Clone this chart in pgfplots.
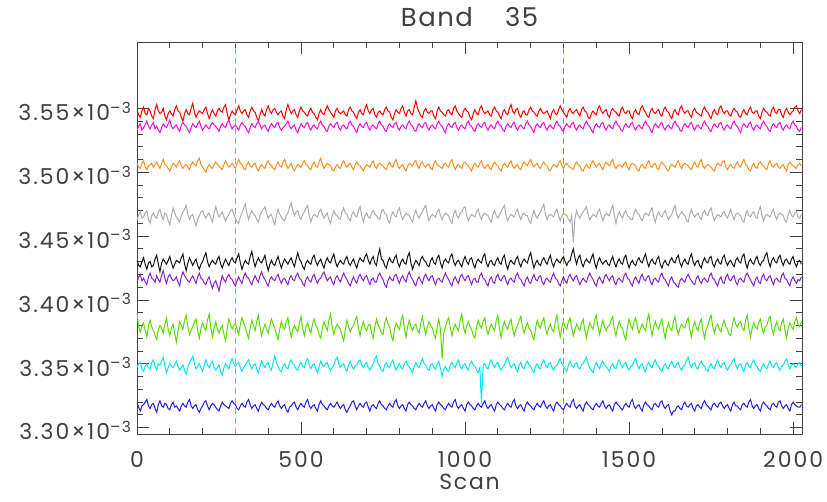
\documentclass[border=0pt]{standalone}
\usepackage{fontspec}
\setmainfont{Poppins}
\usepackage{pgfplots}
\usepackage{pgfplotstable}
\pgfplotsset{compat=1.18}
\definecolor{txt}{RGB}{64,64,64}
\definecolor{cR}{RGB}{255,0,0}
\definecolor{cM}{RGB}{245,10,225}
\definecolor{cO}{RGB}{255,140,30}
\definecolor{cGy}{RGB}{172,172,172}
\definecolor{cK}{RGB}{20,20,20}
\definecolor{cP}{RGB}{140,30,210}
\definecolor{cGr}{RGB}{90,220,0}
\definecolor{cC}{RGB}{0,230,240}
\definecolor{cB}{RGB}{30,30,230}
\definecolor{dPink}{RGB}{240,130,160}
\definecolor{dBlue}{RGB}{130,130,240}
\pgfplotstableread{
x r m o gy k p gr c b
0 3549 3533 3507 3462 3431 3414 3390 3347 3320
5 3545 3536 3504 3467 3427 3418 3379 3350 3316
10 3543 3538 3503 3469 3426 3420 3375 3351 3313
15 3548 3533 3507 3464 3430 3415 3380 3346 3317
20 3551 3535 3509 3465 3433 3417 3382 3344 3318
25 3546 3537 3504 3468 3428 3414 3376 3348 3320
30 3545 3540 3502 3470 3424 3412 3371 3350 3322
35 3550 3536 3505 3463 3429 3418 3380 3347 3317
40 3548 3534 3506 3460 3430 3421 3384 3346 3315
45 3544 3537 3507 3466 3426 3417 3379 3351 3318
50 3542 3539 3504 3468 3427 3416 3376 3353 3319
55 3549 3534 3506 3465 3432 3414 3372 3348 3315
60 3553 3536 3508 3464 3435 3419 3369 3345 3312
65 3548 3533 3505 3469 3428 3416 3377 3350 3318
70 3546 3531 3503 3471 3422 3414 3380 3349 3321
75 3547 3535 3507 3466 3429 3419 3378 3352 3317
80 3550 3538 3510 3463 3432 3423 3374 3355 3316
85 3544 3536 3506 3468 3430 3417 3381 3348 3319
90 3541 3535 3505 3467 3428 3413 3386 3343 3318
95 3546 3538 3503 3462 3431 3418 3377 3347 3315
100 3548 3541 3501 3459 3434 3420 3372 3350 3314
105 3546 3536 3504 3466 3429 3417 3378 3348 3318
110 3544 3534 3507 3472 3425 3415 3381 3347 3320
115 3549 3536 3506 3468 3428 3416 3374 3350 3316
120 3552 3537 3504 3465 3431 3418 3367 3352 3317
125 3548 3534 3507 3463 3430 3414 3376 3348 3315
130 3547 3532 3509 3461 3429 3411 3383 3345 3313
135 3543 3537 3505 3466 3433 3418 3380 3347 3317
140 3540 3539 3503 3469 3436 3422 3377 3349 3319
145 3546 3537 3505 3471 3428 3419 3384 3345 3317
150 3549 3536 3506 3474 3423 3417 3388 3342 3316
155 3546 3533 3504 3467 3429 3415 3379 3347 3320
160 3545 3531 3502 3463 3433 3414 3373 3351 3322
165 3550 3535 3506 3466 3430 3417 3376 3353 3317
170 3554 3538 3508 3467 3427 3419 3379 3356 3315
175 3547 3536 3506 3462 3430 3416 3383 3350 3317
180 3543 3535 3505 3458 3432 3413 3385 3346 3318
185 3546 3538 3509 3463 3427 3418 3376 3348 3314
190 3548 3540 3511 3466 3424 3421 3370 3350 3312
195 3547 3536 3506 3469 3428 3417 3378 3347 3315
200 3546 3533 3504 3470 3430 3416 3382 3344 3317
205 3549 3535 3502 3466 3434 3413 3378 3349 3320
210 3551 3537 3500 3464 3437 3412 3376 3353 3321
215 3546 3535 3504 3467 3430 3416 3384 3349 3317
220 3542 3534 3506 3468 3426 3418 3389 3347 3314
225 3546 3537 3504 3464 3429 3413 3378 3350 3317
230 3549 3539 3503 3461 3431 3409 3371 3352 3319
235 3546 3537 3506 3468 3429 3413 3378 3347 3318
240 3544 3536 3508 3473 3428 3415 3383 3345 3316
245 3548 3534 3506 3468 3432 3411 3377 3347 3314
250 3550 3532 3505 3465 3434 3407 3374 3349 3313
255 3548 3536 3503 3467 3428 3414 3378 3344 3317
260 3547 3538 3502 3469 3425 3419 3380 3341 3320
265 3551 3536 3506 3465 3429 3416 3373 3347 3318
270 3553 3535 3509 3462 3432 3414 3368 3350 3317
275 3546 3539 3506 3465 3429 3418 3378 3348 3316
280 3541 3541 3504 3467 3427 3420 3385 3346 3315
285 3545 3537 3505 3470 3431 3417 3381 3351 3319
290 3548 3534 3507 3471 3433 3416 3377 3354 3321
295 3546 3536 3505 3467 3430 3413 3380 3350 3319
300 3545 3537 3503 3464 3429 3411 3382 3348 3318
305 3549 3535 3507 3461 3433 3415 3377 3350 3315
310 3552 3533 3510 3460 3436 3418 3373 3351 3314
315 3548 3537 3507 3465 3429 3415 3381 3347 3317
320 3546 3539 3506 3468 3424 3413 3386 3344 3319
325 3548 3537 3503 3472 3428 3418 3382 3347 3317
330 3549 3536 3502 3475 3431 3421 3379 3349 3316
335 3545 3533 3506 3468 3429 3418 3374 3351 3320
340 3543 3531 3508 3463 3428 3417 3370 3353 3322
345 3548 3535 3505 3467 3434 3414 3378 3349 3318
350 3551 3538 3504 3470 3438 3412 3384 3346 3315
355 3548 3536 3506 3467 3431 3416 3380 3349 3317
360 3547 3535 3507 3466 3426 3419 3376 3350 3318
365 3543 3538 3503 3463 3430 3416 3383 3346 3315
370 3540 3540 3501 3461 3433 3414 3388 3343 3313
375 3545 3537 3504 3466 3430 3419 3379 3348 3317
380 3549 3534 3506 3469 3429 3422 3372 3352 3320
385 3546 3536 3504 3471 3432 3418 3377 3349 3318
390 3544 3537 3503 3473 3435 3416 3381 3347 3317
395 3549 3534 3507 3468 3428 3413 3377 3350 3315
400 3552 3532 3509 3464 3423 3411 3374 3351 3314
405 3548 3536 3506 3466 3428 3416 3380 3347 3317
410 3546 3538 3505 3467 3431 3418 3385 3345 3319
415 3549 3536 3503 3462 3428 3416 3381 3351 3317
420 3550 3535 3502 3459 3427 3415 3378 3356 3316
425 3547 3538 3506 3466 3431 3418 3373 3351 3319
430 3545 3539 3508 3471 3434 3420 3369 3348 3321
435 3547 3535 3505 3467 3429 3416 3377 3345 3317
440 3548 3533 3504 3465 3425 3413 3383 3344 3315
445 3544 3535 3508 3463 3429 3416 3379 3348 3317
450 3542 3536 3510 3462 3432 3417 3377 3350 3318
455 3549 3538 3506 3466 3430 3414 3383 3347 3314
460 3553 3540 3503 3468 3428 3412 3386 3346 3312
465 3549 3536 3505 3473 3431 3417 3377 3351 3316
470 3546 3534 3507 3476 3433 3419 3371 3353 3317
475 3548 3536 3503 3470 3429 3416 3377 3350 3319
480 3549 3537 3501 3466 3426 3415 3380 3349 3320
485 3545 3533 3504 3469 3432 3419 3377 3346 3316
490 3543 3531 3506 3470 3437 3421 3375 3345 3314
495 3548 3535 3505 3465 3432 3417 3382 3349 3317
500 3551 3538 3504 3463 3430 3416 3387 3351 3319
505 3548 3536 3507 3467 3426 3413 3378 3348 3317
510 3547 3535 3509 3469 3424 3411 3372 3347 3316
515 3545 3538 3506 3472 3429 3416 3379 3352 3320
520 3544 3539 3505 3474 3431 3418 3382 3354 3322
525 3548 3535 3503 3466 3429 3415 3377 3349 3317
530 3550 3533 3502 3461 3428 3414 3374 3346 3315
535 3547 3536 3506 3465 3433 3418 3381 3349 3317
540 3546 3537 3508 3467 3435 3420 3385 3350 3318
545 3543 3535 3505 3466 3430 3416 3380 3346 3315
550 3541 3534 3504 3465 3427 3413 3378 3343 3313
555 3546 3538 3508 3469 3430 3416 3373 3348 3318
560 3549 3540 3511 3471 3432 3417 3370 3352 3321
565 3546 3537 3506 3467 3428 3420 3378 3349 3318
570 3545 3536 3503 3464 3425 3422 3383 3348 3317
575 3549 3533 3505 3466 3430 3418 3379 3350 3315
580 3552 3532 3507 3468 3433 3415 3376 3351 3314
585 3549 3536 3506 3463 3430 3417 3384 3347 3317
590 3547 3538 3505 3460 3429 3418 3389 3345 3319
595 3545 3536 3502 3466 3433 3414 3379 3347 3317
600 3543 3535 3501 3470 3436 3412 3373 3349 3316
605 3548 3538 3504 3467 3430 3417 3378 3353 3318
610 3550 3539 3506 3466 3426 3419 3381 3355 3320
615 3547 3535 3504 3464 3429 3416 3379 3350 3317
620 3546 3533 3503 3463 3431 3414 3377 3347 3315
625 3547 3536 3507 3469 3429 3418 3372 3349 3317
630 3548 3537 3509 3472 3428 3421 3368 3350 3318
635 3545 3535 3506 3468 3432 3418 3377 3346 3314
640 3544 3534 3504 3467 3434 3416 3384 3344 3312
645 3549 3538 3506 3464 3429 3413 3379 3349 3315
650 3551 3540 3507 3462 3427 3411 3375 3352 3317
655 3548 3537 3504 3467 3430 3415 3378 3348 3320
660 3547 3536 3502 3469 3432 3418 3380 3346 3321
665 3544 3533 3506 3466 3428 3415 3384 3348 3317
670 3542 3531 3508 3465 3425 3413 3387 3349 3314
675 3547 3536 3506 3470 3430 3418 3378 3352 3317
680 3549 3538 3505 3473 3433 3420 3372 3353 3319
685 3546 3536 3503 3466 3431 3417 3379 3349 3317
690 3545 3535 3501 3461 3430 3415 3383 3347 3316
695 3550 3538 3504 3466 3434 3418 3378 3350 3319
700 3553 3539 3506 3468 3436 3419 3376 3351 3320
705 3548 3535 3505 3465 3431 3415 3380 3347 3316
710 3546 3533 3504 3464 3428 3412 3381 3345 3313
715 3549 3536 3507 3468 3432 3416 3374 3348 3317
720 3550 3537 3509 3470 3434 3417 3370 3350 3318
725 3545 3535 3505 3467 3429 3414 3379 3354 3316
730 3543 3534 3503 3466 3427 3414 3385 3356 3315
735 3547 3538 3506 3464 3435 3419 3380 3350 3319
740 3548 3540 3507 3463 3440 3421 3378 3348 3321
745 3546 3537 3506 3469 3432 3418 3374 3345 3318
750 3545 3536 3505 3471 3431 3416 3373 3344 3317
755 3549 3533 3503 3468 3427 3412 3382 3349 3315
760 3551 3532 3502 3467 3425 3410 3386 3351 3314
765 3548 3536 3506 3462 3430 3415 3381 3348 3317
770 3547 3538 3508 3460 3433 3418 3379 3347 3319
775 3543 3536 3505 3466 3430 3416 3372 3351 3317
780 3541 3535 3504 3469 3429 3415 3368 3353 3316
785 3546 3538 3508 3466 3433 3419 3377 3348 3320
790 3549 3539 3510 3465 3435 3420 3382 3345 3322
795 3547 3535 3505 3470 3429 3416 3379 3348 3317
800 3546 3533 3503 3472 3426 3413 3377 3350 3315
805 3550 3536 3505 3466 3430 3417 3384 3347 3317
810 3552 3537 3506 3463 3432 3419 3388 3346 3318
815 3547 3535 3503 3466 3429 3416 3378 3350 3315
820 3544 3534 3501 3468 3428 3414 3371 3352 3313
825 3548 3538 3505 3467 3434 3419 3379 3349 3318
830 3549 3540 3507 3466 3437 3422 3384 3348 3320
835 3546 3537 3506 3463 3429 3418 3379 3345 3318
840 3545 3536 3505 3461 3424 3416 3376 3343 3317
845 3551 3533 3508 3467 3428 3413 3380 3348 3315
850 3556 3532 3509 3470 3431 3411 3381 3351 3314
855 3550 3536 3505 3466 3429 3416 3376 3348 3317
860 3547 3538 3503 3464 3427 3418 3374 3347 3319
865 3544 3536 3507 3467 3432 3415 3382 3351 3317
870 3543 3535 3508 3469 3434 3413 3387 3354 3316
875 3548 3538 3505 3472 3431 3418 3379 3350 3319
880 3550 3539 3504 3474 3430 3420 3373 3349 3321
885 3547 3535 3506 3467 3427 3417 3379 3346 3317
890 3546 3533 3506 3462 3426 3415 3383 3345 3315
895 3548 3536 3503 3465 3431 3418 3380 3349 3317
900 3548 3537 3502 3467 3433 3419 3378 3350 3318
905 3544 3535 3507 3466 3429 3415 3373 3347 3315
910 3542 3534 3509 3465 3428 3412 3370 3346 3313
915 3548 3538 3506 3469 3433 3416 3379 3350 3318
920 3551 3540 3505 3471 3435 3417 3385 3352 3320
925 3548 3537 3504 3466 3429 3415 3377 3346 3318
930 3547 3536 3503 3463 3425 3414 3354 3340 3317
935 3545 3533 3506 3466 3430 3418 3374 3346 3315
940 3544 3531 3507 3468 3432 3421 3379 3348 3314
945 3548 3536 3505 3467 3430 3418 3383 3345 3317
950 3549 3538 3504 3466 3429 3416 3386 3344 3319
955 3546 3536 3508 3462 3434 3413 3378 3349 3317
960 3545 3535 3510 3460 3436 3411 3372 3351 3316
965 3550 3538 3505 3467 3430 3416 3378 3348 3320
970 3552 3539 3502 3470 3427 3418 3381 3347 3322
975 3548 3535 3505 3466 3430 3415 3378 3351 3317
980 3546 3533 3506 3464 3431 3413 3376 3353 3315
985 3544 3536 3504 3468 3428 3418 3384 3348 3317
990 3543 3537 3503 3469 3426 3420 3389 3346 3318
995 3548 3535 3507 3472 3431 3417 3379 3349 3315
1000 3550 3534 3508 3473 3434 3415 3374 3350 3313
1005 3548 3538 3506 3466 3430 3418 3380 3347 3318
1010 3547 3540 3505 3462 3428 3419 3383 3345 3320
1015 3543 3537 3503 3465 3432 3415 3379 3350 3318
1020 3541 3536 3501 3467 3433 3412 3377 3352 3317
1025 3546 3533 3505 3466 3428 3416 3372 3349 3315
1030 3549 3532 3507 3465 3425 3417 3370 3348 3314
1035 3546 3536 3505 3469 3430 3414 3379 3345 3317
1040 3545 3538 3504 3471 3432 3414 3384 3343 3319
1045 3550 3536 3507 3466 3430 3419 3380 3347 3317
1050 3552 3535 3509 3463 3429 3421 3378 3319 3316
1055 3548 3538 3505 3467 3434 3417 3383 3349 3319
1060 3546 3539 3503 3468 3436 3416 3386 3350 3321
1065 3547 3535 3505 3467 3429 3413 3378 3347 3317
1070 3548 3533 3506 3466 3426 3411 3373 3346 3315
1075 3545 3536 3503 3463 3430 3416 3378 3351 3317
1080 3544 3537 3502 3461 3431 3418 3381 3353 3318
1085 3549 3535 3506 3467 3428 3414 3378 3349 3315
1090 3551 3534 3508 3470 3427 3413 3376 3347 3313
1095 3548 3538 3506 3466 3431 3418 3384 3350 3318
1100 3547 3540 3505 3464 3433 3420 3388 3351 3320
1105 3544 3537 3502 3467 3429 3416 3377 3347 3318
1110 3542 3536 3501 3469 3428 3415 3371 3345 3317
1115 3547 3533 3505 3472 3433 3418 3379 3348 3315
1120 3549 3532 3507 3474 3435 3419 3383 3349 3314
1125 3546 3536 3505 3466 3428 3415 3379 3353 3317
1130 3545 3538 3504 3462 3424 3412 3377 3355 3319
1135 3550 3536 3507 3465 3429 3416 3382 3350 3317
1140 3553 3535 3509 3467 3431 3417 3385 3347 3316
1145 3548 3538 3505 3466 3429 3415 3377 3349 3320
1150 3546 3539 3503 3465 3428 3414 3372 3350 3322
1155 3549 3535 3505 3469 3432 3419 3377 3346 3317
1160 3550 3533 3506 3471 3434 3421 3380 3344 3315
1165 3545 3536 3503 3466 3429 3417 3384 3349 3317
1170 3543 3537 3502 3463 3426 3416 3387 3351 3318
1175 3547 3535 3506 3467 3430 3413 3379 3347 3315
1180 3548 3534 3508 3468 3432 3411 3374 3346 3313
1185 3545 3538 3506 3466 3430 3416 3379 3350 3318
1190 3545 3540 3505 3466 3429 3418 3382 3352 3320
1195 3549 3537 3508 3462 3434 3414 3378 3349 3318
1200 3551 3536 3510 3460 3437 3413 3376 3348 3317
1205 3548 3533 3506 3466 3430 3417 3372 3345 3315
1210 3547 3531 3504 3470 3425 3420 3369 3343 3314
1215 3545 3536 3506 3466 3429 3416 3378 3348 3317
1220 3544 3538 3507 3464 3431 3415 3384 3350 3319
1225 3548 3536 3504 3467 3428 3418 3380 3347 3317
1230 3550 3535 3503 3469 3427 3419 3378 3346 3316
1235 3547 3538 3506 3472 3431 3414 3383 3351 3319
1240 3546 3539 3508 3475 3433 3412 3386 3353 3321
1245 3547 3535 3506 3467 3430 3416 3378 3349 3317
1250 3548 3533 3505 3463 3428 3417 3373 3347 3315
1255 3545 3536 3502 3466 3432 3415 3378 3350 3317
1260 3542 3537 3501 3467 3435 3414 3381 3351 3318
1265 3547 3535 3504 3466 3429 3418 3377 3347 3315
1270 3549 3534 3506 3465 3426 3421 3375 3345 3313
1275 3546 3538 3505 3469 3430 3417 3383 3348 3318
1280 3545 3540 3504 3471 3432 3416 3388 3349 3320
1285 3549 3537 3507 3466 3430 3413 3378 3352 3318
1290 3552 3536 3509 3462 3429 3411 3371 3354 3317
1295 3549 3533 3505 3466 3432 3415 3379 3350 3315
1300 3547 3532 3503 3468 3434 3418 3383 3348 3314
1305 3545 3536 3506 3467 3430 3415 3379 3346 3317
1310 3543 3538 3507 3466 3427 3413 3377 3344 3319
1315 3548 3536 3505 3463 3430 3418 3383 3349 3317
1320 3550 3535 3504 3461 3431 3420 3386 3352 3316
1325 3547 3538 3503 3466 3436 3417 3378 3349 3320
1330 3546 3539 3502 3445 3440 3415 3372 3347 3322
1335 3548 3535 3506 3464 3433 3418 3377 3350 3317
1340 3549 3533 3508 3470 3428 3419 3381 3351 3315
1345 3546 3536 3506 3466 3433 3415 3378 3347 3317
1350 3544 3537 3505 3464 3435 3412 3376 3346 3318
1355 3549 3535 3502 3467 3429 3415 3382 3349 3315
1360 3551 3534 3501 3469 3426 3417 3385 3350 3313
1365 3548 3538 3504 3471 3430 3415 3376 3353 3318
1370 3547 3540 3506 3473 3432 3414 3370 3355 3320
1375 3543 3537 3504 3467 3430 3418 3377 3350 3318
1380 3542 3536 3503 3463 3429 3421 3382 3347 3317
1385 3546 3533 3507 3465 3433 3418 3379 3345 3315
1390 3548 3531 3509 3467 3436 3416 3377 3343 3314
1395 3546 3536 3506 3466 3429 3413 3384 3348 3317
1400 3545 3538 3504 3465 3425 3411 3388 3351 3319
1405 3550 3536 3506 3469 3430 3416 3379 3348 3317
1410 3552 3535 3507 3471 3433 3418 3373 3346 3316
1415 3548 3538 3504 3466 3430 3415 3379 3350 3319
1420 3546 3539 3502 3462 3428 3413 3384 3352 3321
1425 3548 3535 3506 3466 3430 3418 3379 3349 3317
1430 3549 3533 3508 3468 3431 3420 3376 3348 3315
1435 3545 3536 3506 3467 3428 3417 3379 3346 3317
1440 3543 3537 3505 3466 3427 3415 3380 3344 3318
1445 3548 3535 3508 3471 3431 3418 3384 3348 3315
1450 3550 3534 3510 3474 3434 3419 3387 3350 3313
1455 3548 3538 3505 3466 3429 3414 3377 3347 3318
1460 3547 3540 3503 3460 3426 3412 3372 3346 3320
1465 3545 3537 3505 3466 3430 3416 3379 3351 3318
1470 3544 3536 3506 3469 3432 3417 3383 3353 3317
1475 3549 3533 3505 3466 3429 3415 3379 3349 3315
1480 3551 3532 3504 3464 3428 3414 3378 3347 3314
1485 3547 3536 3507 3468 3433 3419 3372 3350 3317
1490 3546 3538 3508 3470 3435 3421 3369 3351 3319
1495 3548 3536 3504 3466 3429 3417 3379 3347 3317
1500 3548 3535 3502 3465 3425 3416 3385 3345 3316
1505 3544 3538 3506 3463 3429 3413 3380 3348 3320
1510 3542 3539 3507 3463 3431 3411 3377 3349 3322
1515 3547 3535 3506 3468 3428 3416 3383 3352 3317
1520 3549 3533 3505 3471 3427 3418 3386 3354 3315
1525 3546 3536 3502 3468 3431 3415 3379 3349 3317
1530 3545 3537 3501 3467 3433 3413 3374 3346 3318
1535 3550 3535 3505 3464 3430 3418 3378 3349 3315
1540 3552 3534 3506 3462 3429 3420 3381 3350 3313
1545 3549 3538 3504 3466 3433 3416 3378 3346 3318
1550 3547 3540 3503 3468 3436 3415 3376 3344 3320
1555 3544 3537 3507 3467 3430 3418 3384 3349 3318
1560 3543 3536 3509 3466 3426 3419 3389 3351 3317
1565 3548 3533 3505 3470 3430 3414 3379 3348 3315
1570 3550 3531 3504 3472 3432 3412 3372 3347 3314
1575 3547 3536 3506 3465 3429 3416 3379 3351 3318
1580 3546 3538 3507 3461 3428 3417 3383 3353 3319
1585 3548 3536 3503 3466 3432 3415 3379 3349 3317
1590 3549 3535 3502 3469 3434 3414 3377 3348 3316
1595 3545 3538 3506 3466 3428 3419 3382 3345 3320
1600 3544 3539 3508 3465 3425 3421 3385 3344 3321
1605 3549 3535 3506 3468 3429 3417 3376 3348 3317
1610 3551 3533 3505 3470 3431 3416 3370 3350 3315
1615 3548 3536 3502 3466 3428 3413 3378 3347 3317
1620 3547 3537 3501 3463 3427 3411 3382 3346 3318
1625 3544 3535 3505 3465 3431 3416 3378 3350 3313
1630 3542 3534 3506 3467 3433 3418 3376 3352 3310
1635 3547 3538 3505 3471 3430 3414 3383 3348 3313
1640 3549 3540 3504 3474 3429 3413 3387 3347 3313
1645 3546 3537 3507 3467 3433 3411 3378 3350 3316
1650 3545 3536 3509 3464 3435 3410 3373 3351 3317
1655 3550 3533 3505 3467 3429 3415 3378 3347 3315
1660 3552 3532 3503 3469 3426 3417 3381 3345 3314
1665 3548 3536 3506 3467 3430 3415 3379 3348 3318
1670 3546 3538 3507 3466 3432 3414 3378 3349 3320
1675 3548 3536 3506 3462 3429 3418 3383 3353 3317
1680 3548 3535 3505 3461 3428 3420 3386 3355 3316
1685 3545 3538 3503 3467 3433 3417 3377 3350 3318
1690 3543 3539 3502 3471 3436 3415 3371 3347 3319
1695 3548 3535 3506 3467 3430 3413 3379 3350 3315
1700 3550 3533 3508 3465 3427 3412 3383 3351 3313
1705 3547 3536 3505 3467 3430 3417 3378 3347 3317
1710 3546 3537 3504 3468 3431 3419 3376 3346 3318
1715 3545 3535 3508 3465 3427 3415 3382 3350 3316
1720 3544 3534 3510 3463 3425 3413 3385 3352 3315
1725 3549 3538 3505 3468 3430 3416 3376 3349 3319
1730 3551 3540 3503 3470 3433 3417 3370 3348 3321
1735 3548 3537 3505 3467 3430 3415 3377 3345 3318
1740 3547 3536 3506 3466 3429 3414 3380 3344 3317
1745 3544 3533 3505 3470 3433 3419 3385 3348 3315
1750 3542 3532 3504 3472 3434 3421 3388 3350 3314
1755 3547 3536 3502 3466 3428 3417 3379 3347 3318
1760 3549 3538 3501 3462 3426 3416 3374 3346 3319
1765 3546 3536 3505 3465 3430 3413 3379 3350 3317
1770 3545 3535 3507 3467 3432 3411 3381 3353 3316
1775 3550 3538 3506 3466 3429 3416 3377 3349 3319
1780 3552 3539 3505 3465 3428 3418 3375 3347 3320
1785 3548 3535 3508 3468 3433 3414 3381 3350 3317
1790 3546 3533 3509 3469 3435 3413 3384 3351 3315
1795 3548 3536 3504 3466 3430 3418 3379 3347 3317
1800 3548 3537 3502 3464 3427 3420 3377 3345 3318
1805 3545 3535 3505 3468 3430 3416 3373 3348 3315
1810 3544 3534 3506 3471 3431 3415 3372 3349 3313
1815 3548 3538 3504 3466 3428 3418 3381 3352 3318
1820 3550 3540 3503 3463 3426 3419 3386 3354 3320
1825 3548 3537 3506 3467 3431 3414 3381 3349 3317
1830 3547 3536 3508 3468 3433 3412 3379 3346 3317
1835 3544 3533 3505 3467 3430 3416 3382 3349 3315
1840 3543 3531 3504 3466 3429 3417 3383 3350 3314
1845 3547 3536 3508 3462 3434 3415 3378 3346 3318
1850 3549 3538 3510 3461 3436 3414 3376 3344 3319
1855 3546 3536 3506 3467 3429 3419 3384 3349 3317
1860 3545 3535 3505 3470 3425 3421 3388 3351 3316
1865 3549 3538 3502 3466 3430 3418 3378 3348 3320
1870 3551 3539 3501 3465 3432 3416 3371 3347 3322
1875 3547 3535 3505 3468 3429 3413 3378 3351 3317
1880 3546 3533 3507 3469 3428 3411 3382 3353 3315
1885 3548 3536 3504 3465 3432 3416 3379 3349 3317
1890 3548 3537 3503 3464 3434 3418 3377 3348 3318
1895 3544 3535 3507 3470 3429 3414 3382 3345 3315
1900 3542 3534 3508 3473 3427 3413 3385 3344 3313
1905 3547 3538 3506 3466 3430 3418 3378 3348 3318
1910 3550 3540 3505 3462 3431 3420 3374 3350 3320
1915 3548 3537 3503 3466 3435 3416 3379 3347 3318
1920 3547 3536 3502 3467 3437 3415 3380 3346 3317
1925 3545 3533 3507 3466 3430 3418 3385 3350 3315
1930 3544 3532 3509 3465 3426 3419 3387 3352 3314
1935 3549 3536 3505 3469 3431 3415 3378 3348 3318
1940 3551 3538 3504 3471 3433 3412 3373 3347 3319
1945 3547 3536 3506 3466 3430 3416 3379 3350 3317
1950 3546 3535 3507 3463 3429 3417 3383 3351 3316
1955 3549 3538 3504 3467 3433 3415 3378 3347 3320
1960 3549 3539 3503 3468 3435 3414 3376 3345 3321
1965 3545 3535 3505 3467 3430 3419 3382 3348 3317
1970 3543 3533 3506 3466 3427 3421 3385 3349 3315
1975 3548 3536 3503 3462 3431 3417 3376 3352 3317
1980 3550 3537 3501 3461 3432 3416 3370 3354 3318
1985 3547 3535 3506 3467 3429 3413 3378 3349 3315
1990 3545 3534 3508 3470 3428 3411 3382 3346 3313
1995 3547 3538 3506 3466 3432 3416 3379 3349 3318
2000 3548 3540 3505 3465 3434 3418 3377 3350 3320
2005 3551 3537 3504 3468 3429 3415 3383 3348 3318
2010 3552 3536 3503 3469 3426 3413 3386 3347 3317
2015 3548 3533 3506 3465 3430 3416 3381 3350 3316
2020 3546 3532 3507 3464 3431 3415 3379 3351 3316
2025 3549 3535 3505 3467 3428 3418 3383 3348 3318
}\data
\begin{document}
\begin{tikzpicture}
\begin{axis}[name=ax, scale only axis, width=665bp, height=392bp,
  xmin=0, xmax=2027, ymin=3295, ymax=3602,
  xtick={0,500,1000,1500,2000}, minor x tick num=4,
  ytick={3300,3350,3400,3450,3500,3550}, minor y tick num=4,
  yticklabels={3.30×10\textsuperscript{–3},3.35×10\textsuperscript{–3},3.40×10\textsuperscript{–3},3.45×10\textsuperscript{–3},3.50×10\textsuperscript{–3},3.55×10\textsuperscript{–3}},
  tick align=inside, major tick length=12bp, minor tick length=6bp,
  axis line style={txt, line width=0.8bp},
  every tick/.style={txt, line width=0.8bp},
  ticklabel style={font=\fontsize{22}{24}\selectfont\addfontfeatures{LetterSpace=9}, text=txt},
  /pgf/number format/1000 sep={},
  /pgf/number format/assume math mode=true,
  xticklabel style={anchor=base, yshift=-33bp},
  yticklabel style={xshift=-2bp, yshift=-3bp},
  title={Band\hspace{32bp}35},
  title style={at={(axis description cs:0.5,1)}, anchor=base, yshift=10bp, font=\fontsize{26}{28}\selectfont\addfontfeatures{LetterSpace=6}, text=txt},
  xlabel={Scan},
  xlabel style={at={(axis description cs:0.5,0)}, anchor=base, yshift=-55bp, font=\fontsize{22}{24}\selectfont\addfontfeatures{LetterSpace=8}, text=txt},
  every axis plot/.append style={line width=1.0bp},
]
\addplot[draw=dPink, line width=1.1bp, dash pattern=on 6bp off 4bp] coordinates {(300,3295) (300,3602)};
\addplot[draw=dBlue, line width=1.1bp, dash pattern=on 6bp off 4bp] coordinates {(1300,3295) (1300,3602)};
\addplot[color=cR] table[x=x, y=r] {\data};
\addplot[color=cM] table[x=x, y=m] {\data};
\addplot[color=cO] table[x=x, y=o] {\data};
\addplot[color=cGy] table[x=x, y=gy] {\data};
\addplot[color=cK] table[x=x, y=k] {\data};
\addplot[color=cP] table[x=x, y=p] {\data};
\addplot[color=cGr] table[x=x, y=gr] {\data};
\addplot[color=cC] table[x=x, y=c] {\data};
\addplot[color=cB] table[x=x, y=b] {\data};
\end{axis}
\pgfresetboundingbox
\path ([shift={(-137bp,-68bp)}]ax.south west) rectangle ([shift={(25bp,42bp)}]ax.north east);
\end{tikzpicture}
\end{document}
